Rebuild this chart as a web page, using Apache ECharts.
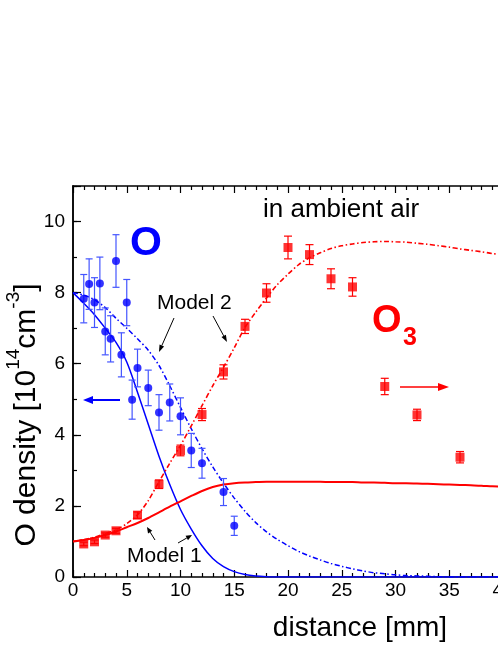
<!DOCTYPE html>
<html>
<head>
<meta charset="UTF-8">
<title>O and O3 density</title>
<script src="https://cdn.jsdelivr.net/npm/echarts@6/dist/echarts.min.js"></script>
<style>
  html, body { margin: 0; padding: 0; background: #fff; }
  #chart { width: 498px; height: 645px; }
</style>
</head>
<body>
<div id="chart"></div>
<script>
// measured O density (blue circles) with error bars
var oX   = [1, 1.5, 2, 2.5, 3, 3.5, 4, 4.5, 5, 5.5, 6, 7, 8, 9, 10, 11, 12, 14, 15];
var oY   = [7.83, 8.24, 7.72, 8.26, 6.91, 6.70, 8.89, 6.25, 7.72, 4.99, 5.88, 5.32, 4.63, 4.91, 4.52, 3.56, 3.20, 2.39, 1.44];
var oErr = [0.68, 0.71, 0.70, 0.74, 0.66, 0.65, 0.74, 0.62, 0.65, 0.55, 0.53, 0.50, 0.50, 0.52, 0.52, 0.48, 0.42, 0.38, 0.27];

// measured O3 density (red squares) with error bars
var o3X   = [1, 2, 3, 4, 6, 8, 10, 12, 14, 16, 18, 20, 22, 24, 26, 29, 32, 36];
var o3Y   = [0.93, 0.99, 1.18, 1.30, 1.74, 2.61, 3.56, 4.57, 5.77, 7.05, 7.99, 9.27, 9.07, 8.39, 8.16, 5.36, 4.56, 3.37];
var o3Err = [0.05, 0.05, 0.06, 0.07, 0.09, 0.12, 0.15, 0.17, 0.20, 0.20, 0.26, 0.32, 0.28, 0.28, 0.26, 0.23, 0.16, 0.16];

// model curves, read at every mm
var curveX = [0, 1, 2, 3, 4, 5, 6, 7, 8, 9, 10, 11, 12, 13, 14, 15, 16, 17, 18, 19, 20,
              21, 22, 23, 24, 25, 26, 27, 28, 29, 30, 31, 32, 33, 34, 35, 36, 37, 38, 39, 40];
var model1O  = [8.0, 7.7, 7.38, 7.0, 6.6, 6.05, 5.2, 4.3, 3.4, 2.6, 1.9, 1.35, 0.88, 0.52, 0.29, 0.15, 0.07, 0.03, 0.01, 0, 0,
                0, 0, 0, 0, 0, 0, 0, 0, 0, 0, 0, 0, 0, 0, 0, 0, 0, 0, 0, 0];
var model2O  = [8.0, 7.93, 7.8, 7.58, 7.28, 7.0, 6.7, 6.38, 5.95, 5.38, 4.77, 4.17, 3.61, 3.1, 2.64, 2.22, 1.85, 1.53, 1.27, 1.06, 0.88,
                0.72, 0.59, 0.48, 0.38, 0.3, 0.23, 0.17, 0.12, 0.09, 0.06, 0.04, 0.03, 0.02, 0.01, 0, 0, 0, 0, 0, 0];
var model1O3 = [1.0, 1.04, 1.1, 1.18, 1.28, 1.4, 1.52, 1.66, 1.82, 1.98, 2.13, 2.28, 2.42, 2.53, 2.6, 2.64, 2.66, 2.67, 2.68, 2.68, 2.68,
                2.68, 2.68, 2.68, 2.67, 2.67, 2.67, 2.66, 2.66, 2.65, 2.64, 2.64, 2.63, 2.62, 2.61, 2.6, 2.59, 2.58, 2.57, 2.55, 2.54];
var model2O3 = [1.0, 1.05, 1.12, 1.22, 1.33, 1.5, 1.75, 2.15, 2.68, 3.2, 3.7, 4.25, 4.82, 5.38, 5.9, 6.45, 7.02, 7.45, 7.85, 8.22, 8.52,
                8.79, 8.98, 9.12, 9.24, 9.32, 9.37, 9.41, 9.43, 9.44, 9.43, 9.42, 9.39, 9.36, 9.32, 9.28, 9.23, 9.19, 9.15, 9.1, 9.06];

var BLUE = '#0000ff';
var RED = '#ff0000';
var FONT = 'Liberation Sans, Arial, Helvetica, sans-serif';

function pairs(xs, ys) {
  return xs.map(function (x, i) { return [x, ys[i]]; });
}
function bars(xs, ys, es) {
  return xs.map(function (x, i) { return [x, ys[i] - es[i], ys[i] + es[i]]; });
}
function errorBars(color, cap) {
  return function (params, api) {
    var x = api.value(0);
    var lo = api.coord([x, api.value(1)]);
    var hi = api.coord([x, api.value(2)]);
    var st = { stroke: color, lineWidth: 1.2 };
    return {
      type: 'group',
      children: [
        { type: 'line', shape: { x1: hi[0], y1: hi[1], x2: lo[0], y2: lo[1] }, style: st },
        { type: 'line', shape: { x1: hi[0] - cap, y1: hi[1], x2: hi[0] + cap, y2: hi[1] }, style: st },
        { type: 'line', shape: { x1: lo[0] - cap, y1: lo[1], x2: lo[0] + cap, y2: lo[1] }, style: st }
      ]
    };
  };
}
function arrow(x1, y1, x2, y2, color, lw, hl, hw) {
  var a = Math.atan2(y2 - y1, x2 - x1);
  var bx = x2 - hl * Math.cos(a), by = y2 - hl * Math.sin(a);
  var nx = -Math.sin(a) * hw / 2, ny = Math.cos(a) * hw / 2;
  return [
    { type: 'line', shape: { x1: x1, y1: y1, x2: bx, y2: by }, style: { stroke: color, lineWidth: lw } },
    { type: 'polygon', shape: { points: [[x2, y2], [bx + nx, by + ny], [bx - nx, by - ny]] }, style: { fill: color } }
  ];
}
// text placed by its left edge and vertical middle
function label(text, x, y, size, color, weight) {
  return {
    type: 'text', x: x, y: y,
    style: { text: text, fill: color, fontSize: size, fontFamily: FONT, fontWeight: weight || 'normal',
             align: 'left', verticalAlign: 'middle' }
  };
}

var dashDot = [5, 2.5, 1.5, 2.5];
var axisCommon = {
  type: 'value',
  axisLine: { onZero: false, lineStyle: { color: '#000', width: 1.5 } },
  splitLine: { show: false }
};

var graphics = [
  label('in ambient air', 263, 210, 26, '#000'),
  label('Model 2', 157, 303, 21, '#000'),
  label('Model 1', 127, 556, 21, '#000'),
  label('O', 130, 244, 41, BLUE, 'bold'),
  label('O', 372, 322, 38, RED, 'bold'),
  label('3', 403, 338, 25, RED, 'bold'),
  {
    type: 'text', x: 23, y: 415, rotation: Math.PI / 2,
    style: {
      text: '{a|O density [10}{s|14}{a|cm}{s|-3}{a|]}',
      align: 'center', verticalAlign: 'middle', fill: '#000',
      rich: {
        a: { fontSize: 30, fontFamily: FONT, lineHeight: 37, verticalAlign: 'bottom' },
        s: { fontSize: 19, fontFamily: FONT, lineHeight: 37, verticalAlign: 'top' }
      }
    }
  },
  {
    type: 'text', x: 360, y: 628,
    style: { text: 'distance [mm]', fontSize: 28, fontFamily: FONT, fill: '#000', align: 'center', verticalAlign: 'middle' }
  }
];
graphics = graphics
  .concat(arrow(174, 318, 159, 352, '#000', 1, 7, 5))
  .concat(arrow(213, 316, 227, 342, '#000', 1, 7, 5))
  .concat(arrow(155, 540, 147, 527, '#000', 1, 6, 5))
  .concat(arrow(178, 543, 192, 535, '#000', 1, 6, 5))
  .concat(arrow(120, 400, 83, 400, BLUE, 2, 10, 8))
  .concat(arrow(400, 387, 449, 387, RED, 1.6, 11, 8));

var chart = echarts.init(document.getElementById('chart'));
chart.setOption({
  animation: false,
  backgroundColor: '#fff',
  grid: { left: 73, top: 186, width: 430, height: 391, containLabel: false, outerBoundsMode: 'none' },
  xAxis: [
    Object.assign({}, axisCommon, {
      position: 'bottom', min: 0, max: 40, interval: 5,
      axisTick: { inside: true, length: 7, lineStyle: { color: '#000', width: 1.2 } },
      minorTick: { show: true, splitNumber: 5, length: 4, lineStyle: { color: '#000', width: 1.2 } },
      axisLabel: { fontSize: 19, color: '#000', fontFamily: FONT, margin: 4 }
    }),
    Object.assign({}, axisCommon, {
      position: 'top', min: 0, max: 40, interval: 5,
      axisTick: { inside: true, length: 7, lineStyle: { color: '#000', width: 1.2 } },
      minorTick: { show: true, splitNumber: 5, length: 4, lineStyle: { color: '#000', width: 1.2 } },
      axisLabel: { show: false }
    })
  ],
  yAxis: [
    Object.assign({}, axisCommon, {
      position: 'left', min: 0, max: 11, interval: 2,
      axisTick: { inside: true, length: 8, lineStyle: { color: '#000', width: 1.2 } },
      axisLabel: {
        fontSize: 19, color: '#000', fontFamily: FONT, margin: 8,
        formatter: function (v) { return v > 10 ? '' : String(v); }
      }
    }),
    Object.assign({}, axisCommon, {
      position: 'left', min: 0, max: 11, interval: 1,
      axisTick: { inside: true, length: 4, lineStyle: { color: '#000', width: 1.2 } },
      axisLabel: { show: false }
    })
  ],
  series: [
    { type: 'line', name: 'Model 1 O', data: pairs(curveX, model1O), smooth: 0.3, showSymbol: false, z: 2,
      lineStyle: { color: BLUE, width: 1.5 } },
    { type: 'line', name: 'Model 2 O', data: pairs(curveX, model2O), smooth: 0.3, showSymbol: false, z: 2,
      lineStyle: { color: BLUE, width: 1.5, type: dashDot } },
    { type: 'line', name: 'Model 1 O3', data: pairs(curveX, model1O3), smooth: 0.3, showSymbol: false, z: 2,
      lineStyle: { color: RED, width: 2 } },
    { type: 'line', name: 'Model 2 O3', data: pairs(curveX, model2O3), smooth: 0.3, showSymbol: false, z: 2,
      lineStyle: { color: RED, width: 1.6, type: dashDot } },
    { type: 'custom', name: 'O err', data: bars(oX, oY, oErr), renderItem: errorBars('#4455ff', 3.5),
      encode: { x: 0, y: [1, 2] }, z: 3 },
    { type: 'custom', name: 'O3 err', data: bars(o3X, o3Y, o3Err), renderItem: errorBars(RED, 4),
      encode: { x: 0, y: [1, 2] }, z: 3 },
    { type: 'scatter', name: 'O3', data: pairs(o3X, o3Y), symbol: 'rect', symbolSize: 9, z: 4,
      itemStyle: { color: RED } },
    { type: 'scatter', name: 'O', data: pairs(oX, oY), symbol: 'circle', symbolSize: 8, z: 5,
      itemStyle: { color: BLUE } }
  ],
  graphic: graphics
});
</script>
</body>
</html>
